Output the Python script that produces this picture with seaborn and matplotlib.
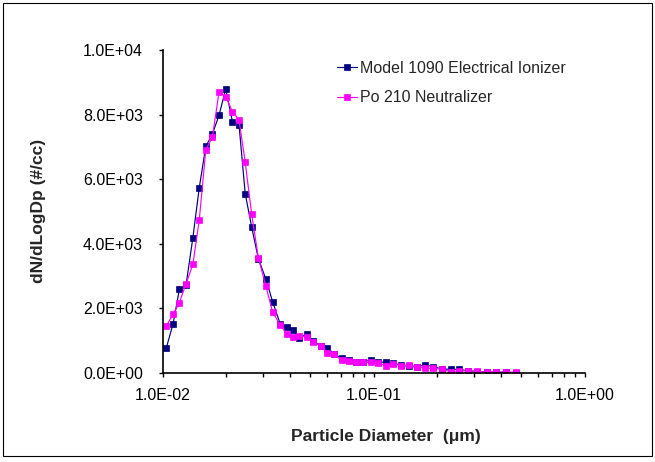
import numpy as np
import pandas as pd
import matplotlib
matplotlib.use("Agg")
import matplotlib.pyplot as plt
import seaborn as sns
from matplotlib.patches import Rectangle
from matplotlib.ticker import LogLocator, NullFormatter

# ---------------- data ----------------
diameter_um = [0.0104, 0.0112, 0.0120, 0.0129, 0.0139, 0.0149, 0.0160, 0.0172,
               0.0185, 0.0199, 0.0214, 0.0230, 0.0246, 0.0264, 0.0284, 0.0308,
               0.0332, 0.0360, 0.0387, 0.0413, 0.0444, 0.0481, 0.0517, 0.0561,
               0.0603, 0.0648, 0.0705, 0.0764, 0.0827, 0.0893, 0.0971, 0.105,
               0.114, 0.124, 0.135, 0.147, 0.160, 0.175, 0.192, 0.210,
               0.232, 0.255, 0.281, 0.310, 0.343, 0.381, 0.424, 0.473]

ionizer = [770, 1516, 2593, 2717, 4186, 5730, 7012, 7394,
           7984, 8798, 7783, 7680, 5553, 4519, 3534, 2913,
           2199, 1525, 1413, 1323, 1071, 1214, 988, 823,
           780, 590, 450, 382, 335, 326, 407, 345,
           320, 289, 242, 196, 180, 242, 189, 118,
           109, 109, 56, 40, 25, 25, 16, 9]

neutralizer = [1453, 1811, 2177, 2758, 3357, 4730, 6898, 7307,
               8705, 8559, 8090, 7835, 6525, 4922, 3565, 2696,
               1873, 1494, 1196, 1102, 1143, 1112, 966, 832,
               624, 584, 382, 376, 345, 320, 326, 295,
               220, 273, 220, 242, 189, 140, 140, 109,
               34, 65, 56, 56, 16, 34, 16, 16]

series_names = ["Model 1090 Electrical Ionizer", "Po 210 Neutralizer"]
series_colors = ["#000080", "#FF00FF"]

x_ticks = [0.01, 0.1, 1.0]
x_tick_labels = ["1.0E-02", "1.0E-01", "1.0E+00"]
y_ticks = [0, 2000, 4000, 6000, 8000, 10000]
y_tick_labels = ["0.0E+00", "2.0E+03", "4.0E+03", "6.0E+03", "8.0E+03", "1.0E+04"]

x_label = "Particle Diameter  (\u03bcm)"
y_label = "dN/dLogDp (#/cc)"

# ---------------- plotting ----------------
sns.set_style("white")
plt.rcParams["font.family"] = ["Liberation Sans", "DejaVu Sans"]

W, H = 655, 462
fig = plt.figure(figsize=(W / 100, H / 100), dpi=100)
fig.patch.set_facecolor("white")

left_px, right_px, top_px, bottom_px = 162.7, 584.7, 50.0, 372.8
ax = fig.add_axes([left_px / W, 1 - bottom_px / H,
                   (right_px - left_px) / W, (bottom_px - top_px) / H])
ax.set_facecolor("white")

for name, vals, col in zip(series_names, [ionizer, neutralizer], series_colors):
    sns.lineplot(x=diameter_um, y=vals, ax=ax, color=col, marker="s",
                 markersize=4.6, markeredgecolor=col, markeredgewidth=0.5,
                 linewidth=0.85, label=name, estimator=None, sort=False)

ax.set_xscale("log")
ax.set_xlim(0.01, 1.0)
ax.set_ylim(0, 10000)
ax.set_xticks(x_ticks)
ax.set_xticklabels(x_tick_labels)
ax.xaxis.set_minor_locator(LogLocator(base=10, subs=np.arange(2, 10)))
ax.xaxis.set_minor_formatter(NullFormatter())
ax.set_yticks(y_ticks)
ax.set_yticklabels(y_tick_labels)

ax.tick_params(axis="both", which="both", direction="out", length=3.2,
               width=1.0, color="black", labelsize=11.5, labelcolor="black",
               bottom=True, left=True, top=False, right=False)
ax.tick_params(axis="y", pad=11)
ax.tick_params(axis="x", pad=8)
ax.grid(False)

for s in ["top", "right"]:
    ax.spines[s].set_visible(False)
for s in ["left", "bottom"]:
    ax.spines[s].set_visible(True)
    ax.spines[s].set_color("black")
    ax.spines[s].set_linewidth(1.2)

ax.set_xlabel(x_label, fontsize=12.5, fontweight="bold", va="center", ha="center")
ax.xaxis.set_label_coords((386 - left_px) / (right_px - left_px),
                          -(436 - bottom_px) / (bottom_px - top_px))
ax.set_ylabel(y_label, fontsize=12.5, fontweight="bold", va="center", ha="center")
ax.yaxis.set_label_coords(-(left_px - 38) / (right_px - left_px), 0.5)

leg = ax.legend(loc="upper left", bbox_to_anchor=(336.7 / W, 1 - 61 / H),
                bbox_transform=fig.transFigure, frameon=False, fontsize=11.5,
                handlelength=1.3, handletextpad=0.15, labelspacing=0.9,
                borderpad=0, borderaxespad=0, numpoints=1)

fig.patches.append(Rectangle((3 / W, 6 / H), 649 / W, 453 / H,
                             transform=fig.transFigure, fill=False,
                             edgecolor="black", linewidth=0.8))

fig.savefig("out.png", dpi=100, facecolor="white")
